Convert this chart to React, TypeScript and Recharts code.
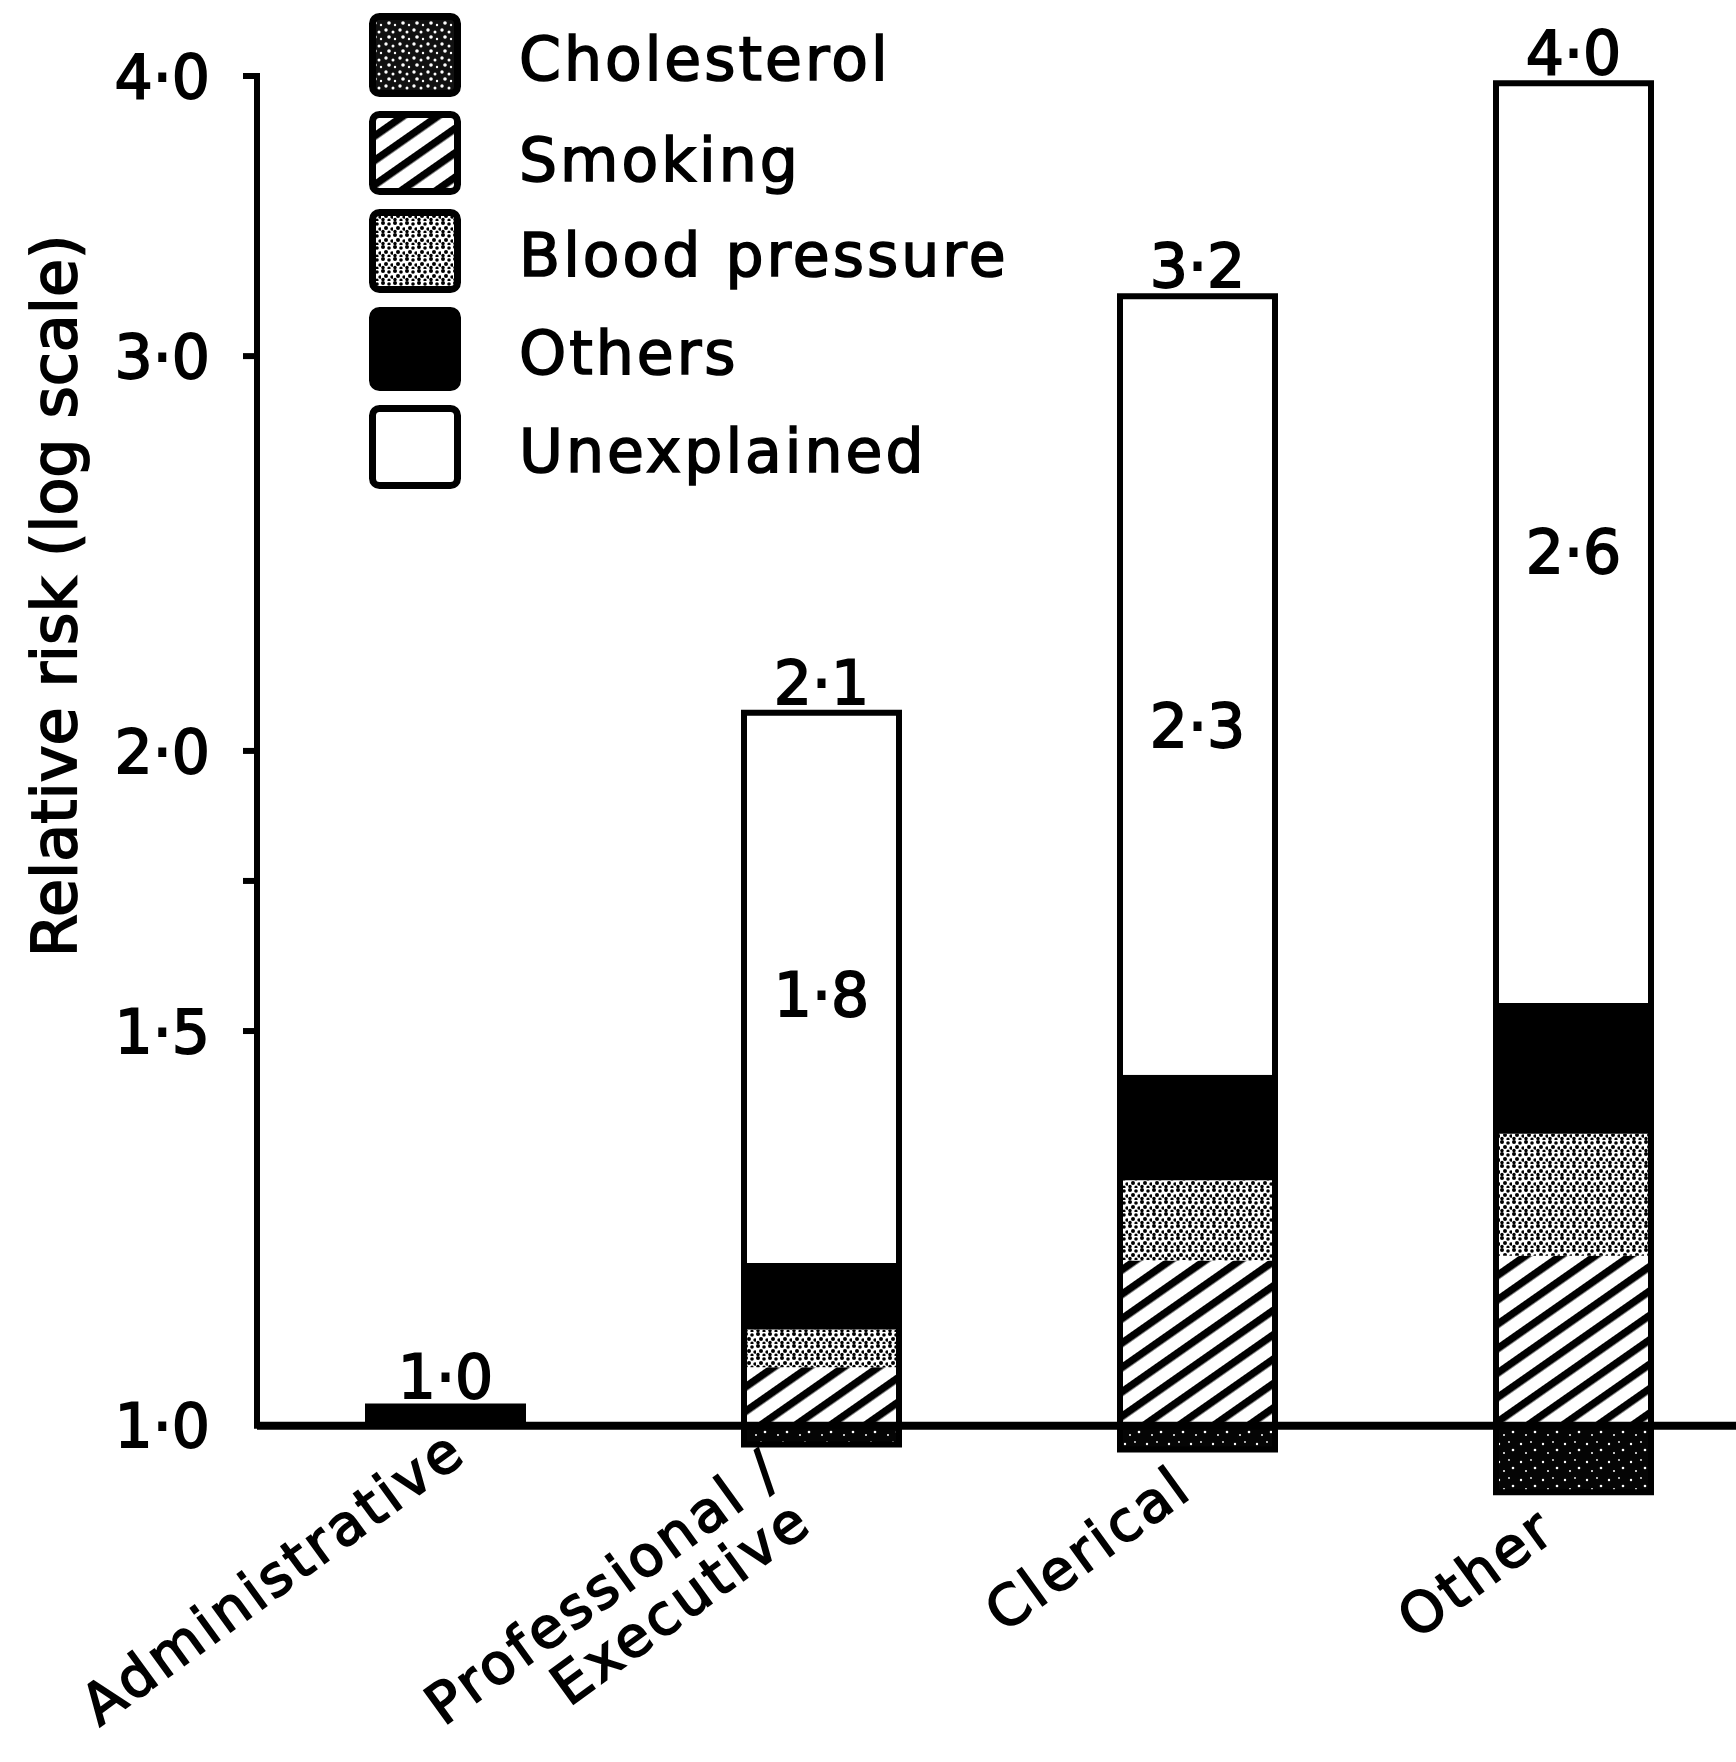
import React from 'react';
import { BarChart, Bar, XAxis, YAxis, ReferenceLine, LabelList, Legend, Cell } from 'recharts';

// ---------- data ----------
const CATEGORIES = ['Administrative', 'Professional/Executive', 'Clerical', 'Other'];
// drawn top of each bar (relative risk); printed as 1·0, 2·1, 3·2, 4·0
const TOTAL_RISK = [1.02, 2.08, 3.19, 3.97];
// printed "unexplained" relative risk inside the white part
const UNEXPLAINED_RISK: (number | null)[] = [null, 1.8, 2.3, 2.6];
// segment boundaries (relative risk, log scale)
const CHOLESTEROL_LOW = [1.0, 0.981, 0.976, 0.934];
const SMOKING_TOP = [1.0, 1.062, 1.185, 1.191];
const BP_TOP = [1.0, 1.104, 1.287, 1.35];
const OTHERS_TOP = [1.0, 1.182, 1.434, 1.544];

const Y_TICKS = [1, 1.5, 1.75, 2, 3, 4];
const Y_TICK_LABELS = ['1·0', '1·5', '', '2·0', '3·0', '4·0'];
const LEGEND_ITEMS = ['Cholesterol', 'Smoking', 'Blood pressure', 'Others', 'Unexplained'];
const X_TICK_LINES: Record<string, string[]> = {
  'Professional/Executive': ['Professional /', 'Executive'],
};
const Y_TITLE = 'Relative risk (log scale)';

// ---------- layout / style ----------
const FONT = '"DejaVu Sans", "Noto Sans", sans-serif';
const X_TICK_SHIFT: number[][] = [[24, -98], [-36, -78], [-2, -62], [-14, -20]];
const INSIDE_SHIFT = [0, 7, 40, 8];
const BAR_SIZE = 155;
const TEXT_STROKE = 1.8;

const fmt = (v: number) => v.toFixed(1).replace('.', '·');

const data = CATEGORIES.map((name, i) => ({
  name,
  cholesterol: [CHOLESTEROL_LOW[i], 1],
  smoking: [1, SMOKING_TOP[i]],
  bp: [SMOKING_TOP[i], BP_TOP[i]],
  others: [BP_TOP[i], OTHERS_TOP[i]],
  unexplained: [OTHERS_TOP[i], TOTAL_RISK[i]],
  outline: [CHOLESTEROL_LOW[i], TOTAL_RISK[i]],
  total: TOTAL_RISK[i],
  unexplainedRisk: UNEXPLAINED_RISK[i],
}));

function Patterns({ suffix = '' }: { suffix?: string }) {
  return (
    <defs>
      <pattern id={`pChol${suffix}`} patternUnits="userSpaceOnUse" width="22" height="18">
        <rect width="22" height="18" fill="#050505" />
        <circle cx="3" cy="4" r="1.2" fill="#fff" />
        <circle cx="13" cy="2" r="0.9" fill="#fff" />
        <circle cx="17" cy="10" r="1.3" fill="#fff" />
        <circle cx="8" cy="13" r="1" fill="#fff" />
      </pattern>
      <pattern id={`pCholLeg${suffix}`} patternUnits="userSpaceOnUse" width="14" height="14">
        <rect width="14" height="14" fill="#111" />
        <circle cx="3" cy="3" r="1.7" fill="#fff" />
        <circle cx="10" cy="5" r="1.5" fill="#fff" />
        <circle cx="6" cy="10" r="1.8" fill="#fff" />
        <circle cx="12" cy="12" r="1.2" fill="#fff" />
      </pattern>
      <pattern id={`pSmoke${suffix}`} patternUnits="userSpaceOnUse" width="20" height="20" patternTransform="rotate(55)">
        <rect width="20" height="20" fill="#fff" />
        <rect width="7.5" height="20" fill="#000" />
      </pattern>
      <pattern id={`pBP${suffix}`} patternUnits="userSpaceOnUse" width="12" height="12">
        <rect width="12" height="12" fill="#fff" />
        <circle cx="2" cy="2" r="2" fill="#000" />
        <circle cx="8" cy="3" r="1.8" fill="#000" />
        <circle cx="5" cy="7" r="2" fill="#000" />
        <circle cx="11" cy="8" r="1.7" fill="#000" />
        <circle cx="2" cy="10.5" r="1.7" fill="#000" />
        <circle cx="8" cy="11" r="1.6" fill="#000" />
      </pattern>
    </defs>
  );
}

const LEGEND_FILLS = ['url(#pCholLegL)', 'url(#pSmokeL)', 'url(#pBPL)', '#000', '#fff'];

function LegendBox() {
  return (
    <div style={{ fontFamily: FONT, color: '#000' }}>
      <svg width={1} height={1} style={{ position: 'absolute', left: 0, top: 0 }}>
        <Patterns suffix="L" />
      </svg>
      {LEGEND_ITEMS.map((label, i) => (
        <div key={label} style={{ display: 'flex', alignItems: 'center', height: 98 }}>
          <svg width={92} height={84} style={{ display: 'block' }}>
            <rect x={3.5} y={3.5} width={85} height={77} rx={7} fill={LEGEND_FILLS[i]} stroke="#000" strokeWidth={7} />
          </svg>
          <span
            style={{
              marginLeft: 58,
              paddingTop: i === 1 ? 14 : 8,
              fontSize: 60,
              letterSpacing: 3,
              lineHeight: 1,
              WebkitTextStroke: '1.6px #000',
              whiteSpace: 'nowrap',
            }}
          >
            {label}
          </span>
        </div>
      ))}
    </div>
  );
}

function YTick(props: any) {
  const { x, y, payload } = props;
  const i = Y_TICKS.indexOf(payload.value);
  const label = i >= 0 ? Y_TICK_LABELS[i] : '';
  return (
    <g>
      {payload.value !== 1 && <line x1={x + 33} x2={x + 47} y1={y} y2={y} stroke="#000" strokeWidth={6} />}
      {label && (
        <text x={x} y={y} dy="0.36em" textAnchor="end" fontFamily={FONT} fontSize={60} fill="#000" stroke="#000" strokeWidth={TEXT_STROKE}>
          {label}
        </text>
      )}
    </g>
  );
}

function XTick(props: any) {
  const { x, y, payload } = props;
  const i = CATEGORIES.indexOf(payload.value);
  const [dx, dy] = X_TICK_SHIFT[i] || [0, 0];
  const lines = X_TICK_LINES[payload.value] || [payload.value];
  return (
    <g transform={`translate(${x + dx},${y + dy}) rotate(-36)`}>
      {lines.map((t: string, k: number) => (
        <text
          key={k}
          x={k ? -5 : 0}
          y={k * 58}
          textAnchor="end"
          fontFamily={FONT}
          fontSize={56}
          letterSpacing={3.5}
          fill="#000"
          stroke="#000"
          strokeWidth={TEXT_STROKE}
        >
          {t}
        </text>
      ))}
    </g>
  );
}

function YTitle() {
  return (
    <text transform="translate(76,596) rotate(-90)" textAnchor="middle" fontFamily={FONT} fontSize={62} fill="#000" stroke="#000" strokeWidth={TEXT_STROKE}>
      {Y_TITLE}
    </text>
  );
}

function TopLabel(props: any) {
  const vb = props.viewBox || props;
  const { x, y, width } = vb;
  const v = props.value;
  if (v == null || x == null) return null;
  return (
    <text x={x + width / 2} y={y - 9} textAnchor="middle" fontFamily={FONT} fontSize={60} fill="#000" stroke="#000" strokeWidth={TEXT_STROKE}>
      {fmt(Number(v))}
    </text>
  );
}

function InsideLabel(props: any) {
  const vb = props.viewBox || props;
  const { x, y, width, height } = vb;
  const v = props.value;
  if (v == null || x == null) return null;
  const idx = typeof props.index === 'number' ? props.index : 0;
  return (
    <text
      x={x + width / 2}
      y={y + height / 2 + (INSIDE_SHIFT[idx] || 0)}
      dy="0.36em"
      textAnchor="middle"
      fontFamily={FONT}
      fontSize={60}
      fill="#000"
      stroke="#000"
      strokeWidth={TEXT_STROKE}
    >
      {fmt(Number(v))}
    </text>
  );
}

export default function App() {
  return (
    <div style={{ position: 'absolute', left: 0, top: 0, width: 1736, height: 1762, overflow: 'hidden', background: '#fff' }}>
      <BarChart width={1762} height={1762} data={data} margin={{ top: 76, right: 1, bottom: 205.5, left: 0 }}>
        <Patterns />
        <XAxis xAxisId="main" dataKey="name" height={60} axisLine={false} tickLine={false} tickSize={0} tickMargin={0} interval={0} tick={<XTick />} />
        <XAxis xAxisId="c" dataKey="name" hide />
        <XAxis xAxisId="s" dataKey="name" hide />
        <XAxis xAxisId="b" dataKey="name" hide />
        <XAxis xAxisId="o" dataKey="name" hide />
        <XAxis xAxisId="u" dataKey="name" hide />
        <XAxis xAxisId="num" type="number" domain={[0, 1]} hide />
        <YAxis
          scale="log"
          domain={[0.93, 4]}
          ticks={Y_TICKS}
          interval={0}
          width={257}
          axisLine={false}
          tickLine={false}
          tickSize={0}
          tickMargin={47}
          tick={<YTick />}
          label={{ content: YTitle } as any}
        />
        <Legend
          layout="vertical"
          align="center"
          verticalAlign="middle"
          content={() => <LegendBox />}
          wrapperStyle={{ left: 369, top: 6, width: 'auto', height: 'auto' }}
        />
        <Bar xAxisId="c" dataKey="cholesterol" name="Cholesterol" fill="url(#pChol)" barSize={BAR_SIZE} isAnimationActive={false} />
        <Bar xAxisId="s" dataKey="smoking" name="Smoking" fill="url(#pSmoke)" barSize={BAR_SIZE} isAnimationActive={false} />
        <Bar xAxisId="b" dataKey="bp" name="Blood pressure" fill="url(#pBP)" barSize={BAR_SIZE} isAnimationActive={false} />
        <Bar xAxisId="o" dataKey="others" name="Others" fill="#000" barSize={BAR_SIZE} isAnimationActive={false} />
        <Bar xAxisId="u" dataKey="unexplained" name="Unexplained" fill="#fff" barSize={BAR_SIZE} isAnimationActive={false}>
          {data.map((d, i) => (
            <Cell key={d.name} fill={i === 0 ? '#000' : '#fff'} />
          ))}
          <LabelList dataKey="unexplainedRisk" content={<InsideLabel />} />
        </Bar>
        <Bar xAxisId="main" dataKey="outline" name="Total" fill="none" stroke="#000" strokeWidth={6} barSize={BAR_SIZE} isAnimationActive={false} legendType="none">
          <LabelList dataKey="total" content={<TopLabel />} />
        </Bar>
        <ReferenceLine xAxisId="main" y={1} stroke="#000" strokeWidth={8} />
        <ReferenceLine xAxisId="num" segment={[{ x: 0, y: 1 }, { x: 0, y: 4 }]} stroke="#000" strokeWidth={6} strokeLinecap="square" />
      </BarChart>
    </div>
  );
}
